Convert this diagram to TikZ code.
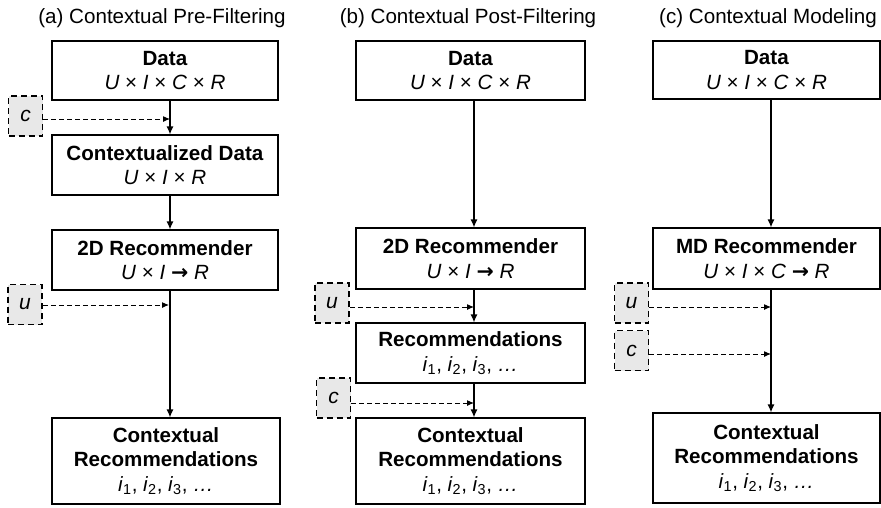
\documentclass[tikz,border=0pt]{standalone}
\usepackage{fontspec}
\setmainfont{Liberation Sans}
\newfontfamily\symfont{DejaVu Sans}
\usetikzlibrary{arrows.meta}
\newcommand{\rarr}{{\symfont\bfseries →}}
\newcommand{\ilist}{\textit{i}\textsubscript{1}, \textit{i}\textsubscript{2}, \textit{i}\textsubscript{3}, \textit{…}}
\tikzset{
  box/.style={draw, line width=1.2pt, rectangle, inner sep=0pt, align=center,
    font=\fontsize{20.6}{24.5}\selectfont},
  ctx/.style={draw, dash pattern=on 6pt off 4pt, line width=1.6pt, fill=black!9,
    minimum width=34pt, minimum height=40pt, inner sep=0pt,
    font=\fontsize{21}{24}\selectfont\itshape},
  ttl/.style={font=\fontsize{20.6}{24}\selectfont, inner sep=0pt},
  arr/.style={line width=1.2pt, -{Latex[length=8pt,width=7pt]}},
  darr/.style={line width=1pt, dash pattern=on 5pt off 3pt, -{Latex[length=7pt,width=6pt]}}
}
\begin{document}
\begin{tikzpicture}[x=1pt,y=-1pt]
\useasboundingbox (0,0) rectangle (881,507);
% titles
\node[ttl] (ta) at (162,18) {(a) Contextual Pre-Filtering};
\node[ttl] (tb) at (468,18) {(b) Contextual Post-Filtering};
\node[ttl] (tc) at (768,18) {(c) Contextual Modeling};
% column a
\node[box, minimum width=226pt, minimum height=59pt] (Da) at (165,70.5) {\textbf{Data}\\\textit{U} × \textit{I} × \textit{C} × \textit{R}};
\node[box, minimum width=226pt, minimum height=60pt] (CDa) at (165,165) {\textbf{Contextualized Data}\\\textit{U} × \textit{I} × \textit{R}};
\node[box, minimum width=226pt, minimum height=60pt] (R2a) at (165,260) {\textbf{2D Recommender}\\\textit{U} × \textit{I} \rarr{} \textit{R}};
\node[box, minimum width=228pt, minimum height=86pt] (CRa) at (166,461) {\textbf{Contextual}\\\textbf{Recommendations}\\\ilist};
\node[ctx] (ca) at (25.5,116) {c};
\node[ctx] (ua) at (25,304.5) {u};
\coordinate (xa) at (170,0);
\coordinate (tca) at (170,119);
\coordinate (tua) at (169,305);
\draw[arr] (Da.south -| xa) -- (CDa.north -| xa);
\draw[arr] (CDa.south -| xa) -- (R2a.north -| xa);
\draw[arr] (R2a.south -| xa) -- (CRa.north -| xa);
\draw[darr] (ca.east |- tca) -- (tca);
\draw[darr] (ua.east |- tua) -- (tua);
% column b
\node[box, minimum width=229pt, minimum height=59pt] (Db) at (470.5,70.5) {\textbf{Data}\\\textit{U} × \textit{I} × \textit{C} × \textit{R}};
\node[box, minimum width=229pt, minimum height=61pt] (R2b) at (470.5,258.5) {\textbf{2D Recommender}\\\textit{U} × \textit{I} \rarr{} \textit{R}};
\node[box, minimum width=229pt, minimum height=60pt] (Rb) at (470.5,353) {\textbf{Recommendations}\\\ilist};
\node[box, minimum width=229pt, minimum height=86pt] (CRb) at (470.5,461) {\textbf{Contextual}\\\textbf{Recommendations}\\\ilist};
\node[ctx] (ub) at (332,303) {u};
\node[ctx] (cb) at (333.5,398) {c};
\coordinate (xb) at (474,0);
\coordinate (tub) at (474,307);
\coordinate (tcb) at (474,403);
\draw[arr] (Db.south -| xb) -- (R2b.north -| xb);
\draw[arr] (R2b.south -| xb) -- (Rb.north -| xb);
\draw[arr] (Rb.south -| xb) -- (CRb.north -| xb);
\draw[darr] (ub.east |- tub) -- (tub);
\draw[darr] (cb.east |- tcb) -- (tcb);
% column c
\node[box, minimum width=227pt, minimum height=58pt] (Dc) at (766.5,70) {\textbf{Data}\\\textit{U} × \textit{I} × \textit{C} × \textit{R}};
\node[box, minimum width=227pt, minimum height=61pt] (MDc) at (766.5,258.5) {\textbf{MD Recommender}\\\textit{U} × \textit{I} × \textit{C} \rarr{} \textit{R}};
\node[box, minimum width=227pt, minimum height=90pt] (CRc) at (766.5,458) {\textbf{Contextual}\\\textbf{Recommendations}\\\ilist};
\node[ctx] (uc) at (631.5,303) {u};
\node[ctx] (cc) at (631.5,350.5) {c};
\coordinate (xc) at (771,0);
\coordinate (tuc) at (771,307);
\coordinate (tcc) at (771,354);
\draw[arr] (Dc.south -| xc) -- (MDc.north -| xc);
\draw[arr] (MDc.south -| xc) -- (CRc.north -| xc);
\draw[darr] (uc.east |- tuc) -- (tuc);
\draw[darr] (cc.east |- tcc) -- (tcc);
\end{tikzpicture}
\end{document}
